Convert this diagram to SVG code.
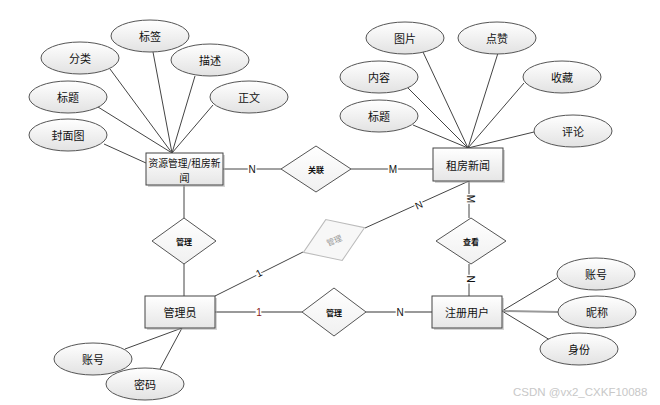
<svg xmlns="http://www.w3.org/2000/svg" width="660" height="405" viewBox="0 0 660 405">
<style>
text{font-family:"Noto Sans CJK SC","Liberation Sans",sans-serif;fill:#111;text-anchor:middle;dominant-baseline:central}
.attr ellipse{fill:url(#eg);stroke:#555;stroke-width:1}
.attr text{font-size:11px}
.ent rect.b{fill:url(#rg);stroke:#444;stroke-width:1}
.ent rect.s{fill:#aaa;opacity:.5}
.ent text{font-size:11px}
.rel polygon{fill:url(#dg);stroke:#555;stroke-width:1}
.rel text{font-size:8px;font-weight:bold}
#connectors line{stroke:#444;stroke-width:1}
#connectors line.g{stroke:#999;stroke-width:2}
.lbl{font-family:"Liberation Sans",sans-serif;font-size:10px;stroke:#fff;stroke-width:3px;paint-order:stroke;fill:#111}
.wm{font-family:"Liberation Sans",sans-serif;font-size:11.5px;fill:#c8c8c8;text-anchor:start}
</style>
<defs>
<linearGradient id="eg" x1="0" y1="0" x2="0" y2="1"><stop offset="0" stop-color="#ffffff"/><stop offset="1" stop-color="#e2e2e2"/></linearGradient>
<linearGradient id="rg" x1="0" y1="0" x2="0" y2="1"><stop offset="0" stop-color="#ffffff"/><stop offset="1" stop-color="#e6e6e6"/></linearGradient>
<linearGradient id="dg" x1="0" y1="0" x2="0" y2="1"><stop offset="0" stop-color="#ffffff"/><stop offset="1" stop-color="#f0f0f0"/></linearGradient>
</defs>
<rect width="660" height="405" fill="#fff"/>

<g id="connectors">
<line x1="104" y1="144" x2="146" y2="163"/>
<line x1="98" y1="107" x2="172" y2="153"/>
<line x1="110" y1="69" x2="172" y2="153"/>
<line x1="153" y1="52" x2="172" y2="153"/>
<line x1="195" y1="76" x2="172" y2="153"/>
<line x1="213" y1="105" x2="172" y2="153"/>
<line x1="423" y1="52" x2="468" y2="148"/>
<line x1="498" y1="53" x2="468" y2="148"/>
<line x1="408" y1="88" x2="468" y2="148"/>
<line x1="524" y1="83" x2="468" y2="148"/>
<line x1="413" y1="125" x2="468" y2="148"/>
<line x1="534" y1="132" x2="468" y2="148"/>
<line x1="125" y1="349" x2="182" y2="328"/>
<line x1="160" y1="369" x2="182" y2="328"/>
<line x1="502" y1="311" x2="557" y2="278"/>
<line class="g" x1="502" y1="311" x2="558" y2="312"/>
<line x1="502" y1="311" x2="550" y2="340"/>
<line x1="223" y1="169" x2="281" y2="169"/>
<line x1="351" y1="169" x2="433" y2="169"/>
<line x1="184" y1="185" x2="184" y2="218"/>
<line x1="184" y1="264" x2="184" y2="296"/>
<line x1="215" y1="296" x2="303" y2="252"/>
<line x1="365" y1="228" x2="469" y2="181"/>
<line x1="469" y1="181" x2="469" y2="218"/>
<line x1="469" y1="264" x2="469" y2="296"/>
<line class="g" x1="215" y1="312" x2="302" y2="312"/>
<line class="g" x1="366" y1="312" x2="432" y2="312"/>
<text class="lbl" x="252" y="169">N</text>
<text class="lbl" x="393" y="169">M</text>
<text class="lbl" x="259" y="273" transform="rotate(-27 259 273)">1</text>
<text class="lbl" x="419" y="205" transform="rotate(-24 419 205)">N</text>
<text class="lbl" x="470" y="199" transform="rotate(90 470 199)">M</text>
<text class="lbl" x="470" y="279" transform="rotate(90 470 279)">N</text>
<text class="lbl" x="259" y="312" style="fill:#8a1a1a">1</text>
<text class="lbl" x="400" y="312">N</text>
</g>

<g id="ent-resource" class="ent"><rect class="s" x="148" y="155" width="77" height="32"/><rect class="b" x="146" y="153" width="77" height="32"/><text x="184.5" y="162" style="font-size:10.5px" textLength="72" lengthAdjust="spacingAndGlyphs">资源管理/租房新</text><text x="184.5" y="177" style="font-size:10.5px">闻</text></g>
<g id="ent-news" class="ent"><rect class="s" x="435" y="150" width="70" height="33"/><rect class="b" x="433" y="148" width="70" height="33"/><text x="468" y="164.5">租房新闻</text></g>
<g id="ent-admin" class="ent"><rect class="s" x="147" y="298" width="70" height="32"/><rect class="b" x="145" y="296" width="70" height="32"/><text x="180" y="312">管理员</text></g>
<g id="ent-user" class="ent"><rect class="s" x="434" y="298" width="70" height="32"/><rect class="b" x="432" y="296" width="70" height="32"/><text x="467" y="312">注册用户</text></g>

<g id="rel-link" class="rel"><polygon points="281,169 316,146 351,169 316,192"/><text x="316" y="169">关联</text></g>
<g id="rel-view" class="rel"><polygon points="436,241 471,218 506,241 471,264"/><text x="471" y="241">查看</text></g>
<g id="rel-manage1" class="rel"><polygon points="152,241 184,218 216,241 184,264"/><text x="184" y="241">管理</text></g>
<g id="rel-manage2" class="rel"><polygon points="302,312 334,288 366,312 334,336"/><text x="334" y="312">管理</text></g>
<g id="rel-manage3" class="rel" transform="rotate(-22 334 240)"><polygon points="301,240 334,218 367,240 334,262" style="stroke:#bbb;fill:#f7f7f7"/><text x="334" y="240" style="fill:#999;font-weight:normal">管理</text></g>

<g id="attr-cover" class="attr"><ellipse cx="68" cy="135" rx="39" ry="16"/><text x="68" y="135">封面图</text></g>
<g id="attr-title1" class="attr"><ellipse cx="68" cy="97" rx="39" ry="16"/><text x="68" y="97">标题</text></g>
<g id="attr-cat" class="attr"><ellipse cx="80" cy="58" rx="39" ry="16"/><text x="80" y="58">分类</text></g>
<g id="attr-tag" class="attr"><ellipse cx="150" cy="36" rx="39" ry="16"/><text x="150" y="36">标签</text></g>
<g id="attr-desc" class="attr"><ellipse cx="210" cy="60" rx="39" ry="16"/><text x="210" y="60">描述</text></g>
<g id="attr-body" class="attr"><ellipse cx="249" cy="97" rx="39" ry="16"/><text x="249" y="97">正文</text></g>

<g id="attr-pic" class="attr"><ellipse cx="405" cy="38" rx="39" ry="16"/><text x="405" y="38">图片</text></g>
<g id="attr-like" class="attr"><ellipse cx="497" cy="38" rx="39" ry="16"/><text x="497" y="38">点赞</text></g>
<g id="attr-content" class="attr"><ellipse cx="379" cy="77" rx="39" ry="16"/><text x="379" y="77">内容</text></g>
<g id="attr-fav" class="attr"><ellipse cx="562" cy="77" rx="39" ry="16"/><text x="562" y="77">收藏</text></g>
<g id="attr-title2" class="attr"><ellipse cx="379" cy="116" rx="39" ry="16"/><text x="379" y="116">标题</text></g>
<g id="attr-comment" class="attr"><ellipse cx="573" cy="131" rx="39" ry="16"/><text x="573" y="131">评论</text></g>

<g id="attr-acc1" class="attr"><ellipse cx="93" cy="359" rx="39" ry="16"/><text x="93" y="359">账号</text></g>
<g id="attr-pwd" class="attr"><ellipse cx="145" cy="384" rx="39" ry="16"/><text x="145" y="384">密码</text></g>
<g id="attr-acc2" class="attr"><ellipse cx="596" cy="274" rx="39" ry="16"/><text x="596" y="274">账号</text></g>
<g id="attr-nick" class="attr"><ellipse cx="597" cy="312" rx="39" ry="16"/><text x="597" y="312">昵称</text></g>
<g id="attr-role" class="attr"><ellipse cx="579" cy="349" rx="39" ry="16"/><text x="579" y="349">身份</text></g>

<text class="wm" x="513" y="392">CSDN @vx2_CXKF10088</text>
</svg>
